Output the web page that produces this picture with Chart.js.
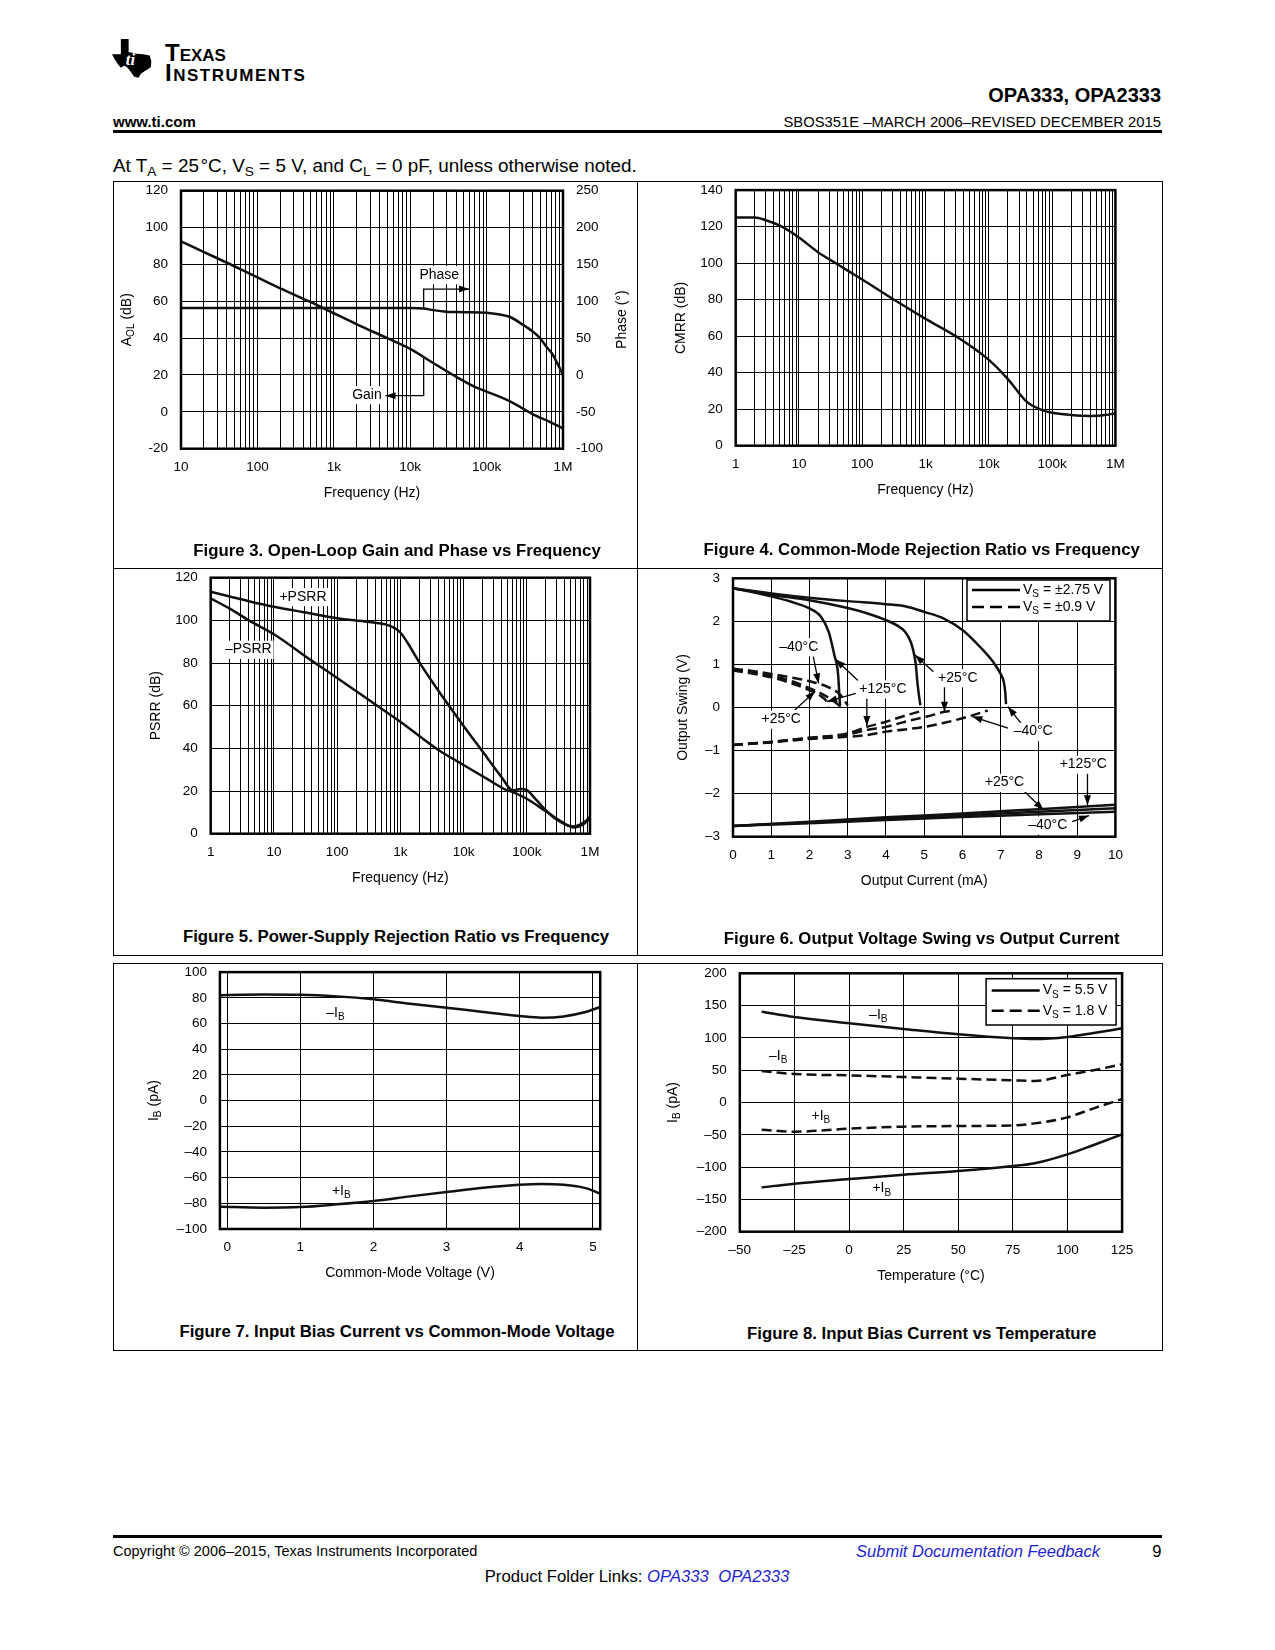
<!DOCTYPE html>
<html>
<head>
<meta charset="utf-8">
<title>OPA333 typical characteristics</title>
<script src="https://cdn.jsdelivr.net/npm/chart.js@4.4.1/dist/chart.umd.min.js"></script>
<style>
  body { margin: 0; background: #fff; font-family: "Liberation Sans", Arial, Helvetica, sans-serif; color: #000; }
  #page { position: relative; width: 1275px; height: 1650px; overflow: hidden; }
  .t { position: absolute; white-space: nowrap; line-height: 1; }
  .rule { position: absolute; background: #000; }
  .cell { position: absolute; border: 1px solid #000; box-sizing: border-box; }
  .cap { position: absolute; white-space: nowrap; line-height: 1; font-weight: bold; font-size: 16.8px; transform: translateX(-50%); }
  canvas { position: absolute; }
  .s { font-size: 0.72em; vertical-align: -0.3em; line-height: 0; }
  .lnk { color: #1f1fd2; font-style: italic; }
</style>
</head>
<body>
<div id="page">
  <!-- header -->
  <svg style="position:absolute;left:112px;top:39px" width="41" height="40" viewBox="0 0 37 34" preserveAspectRatio="none">
    <path d="M8,0 L15,0 L15,11 L22,12.5 L28,13 L34,14 L35.5,19 L35,24 L30,27 L26,29.5 L24,33 L20,32 L17,28 L14,24.5 L11,22.5 L8,24.5 L5,21 L2,16.5 L0,13 L8,13 Z" fill="#000"/>
    <text x="12.5" y="22" font-family="Liberation Serif, serif" font-style="italic" font-weight="bold" font-size="15" fill="#fff">ti</text>
  </svg>
  <div class="t" style="left:165px;top:41.4px;font-size:24px;font-weight:bold;font-variant:small-caps">Texas</div>
  <div class="t" style="left:165px;top:61.4px;font-size:24px;font-weight:bold;font-variant:small-caps;letter-spacing:1.5px">Instruments</div>
  <div class="t" style="right:114px;top:85px;font-size:20px;font-weight:bold">OPA333, OPA2333</div>
  <div class="t" style="left:113px;top:114.3px;font-size:15px;font-weight:bold">www.ti.com</div>
  <div class="t" style="right:114px;top:114.5px;font-size:14.8px">SBOS351E &#8211;MARCH 2006&#8211;REVISED DECEMBER 2015</div>
  <div class="rule" style="left:113px;top:130px;width:1049px;height:3px"></div>
  <div class="t" style="left:113px;top:156.5px;font-size:18.9px">At T<span class="s">A</span> = 25&#8202;°C, V<span class="s">S</span> = 5 V, and C<span class="s">L</span> = 0 pF, unless otherwise noted.</div>

  <!-- figure cells -->
  <div class="cell" style="left:113px;top:181px;width:525px;height:388px"></div>
  <div class="cell" style="left:637px;top:181px;width:526px;height:388px"></div>
  <div class="cell" style="left:113px;top:568px;width:525px;height:388px"></div>
  <div class="cell" style="left:637px;top:568px;width:526px;height:388px"></div>
  <div class="cell" style="left:113px;top:963px;width:525px;height:388px"></div>
  <div class="cell" style="left:637px;top:963px;width:526px;height:388px"></div>

  <canvas id="fig3"></canvas>
  <canvas id="fig4"></canvas>
  <canvas id="fig5"></canvas>
  <canvas id="fig6"></canvas>
  <canvas id="fig7"></canvas>
  <canvas id="fig8"></canvas>

  <div class="cap" style="left:397px;top:543.3px">Figure 3. Open-Loop Gain and Phase vs Frequency</div>
  <div class="cap" style="left:921.7px;top:541.7px">Figure 4. Common-Mode Rejection Ratio vs Frequency</div>
  <div class="cap" style="left:396px;top:928.7px">Figure 5. Power-Supply Rejection Ratio vs Frequency</div>
  <div class="cap" style="left:921.7px;top:931px">Figure 6. Output Voltage Swing vs Output Current</div>
  <div class="cap" style="left:397px;top:1324.3px">Figure 7. Input Bias Current vs Common-Mode Voltage</div>
  <div class="cap" style="left:921.7px;top:1326.3px">Figure 8. Input Bias Current vs Temperature</div>

  <!-- footer -->
  <div class="rule" style="left:113px;top:1535px;width:1049px;height:3px"></div>
  <div class="t" style="left:113px;top:1544.4px;font-size:14.5px">Copyright © 2006&#8211;2015, Texas Instruments Incorporated</div>
  <div class="t lnk" style="right:175px;top:1542.7px;font-size:16.5px">Submit Documentation Feedback</div>
  <div class="t" style="right:113.5px;top:1542.7px;font-size:16.5px">9</div>
  <div class="t" style="left:637px;top:1569.3px;font-size:16.7px;transform:translateX(-50%)">Product Folder Links: <span class="lnk">OPA333</span>&nbsp; <span class="lnk">OPA2333</span></div>
</div>

<script>
const FONT = '"Liberation Sans", Arial, Helvetica, sans-serif';

/* Figure 3: open-loop gain and phase */
const olFreq = [10, 20, 50, 100, 200, 500, 1e3, 2e3, 5e3, 1e4, 2e4, 4e4, 7e4, 1e5, 2e5, 4e5, 7e5, 1e6];
const olGain = [92.5, 86.7, 79, 73, 67, 59.5, 53.5, 47.5, 40, 34.2, 26.5, 19, 13.5, 11, 5.8, -1.2, -5.8, -9];
const phFreq = [10, 100, 1e3, 1e4, 1.5e4, 2e4, 3e4, 5e4, 1e5, 1.5e5, 2e5, 3e5, 4e5, 5e5, 6e5, 7.35e5, 8.5e5, 1e6];
const olPhase = [91, 91, 91, 91, 90.3, 88, 85.8, 85.2, 84.5, 82, 79, 68, 59, 50, 39, 27.5, 15, 0];

/* Figure 4: CMRR */
const cmrrFreq = [1, 2, 3, 5, 10, 20, 40, 100, 300, 1e3, 3e3, 1e4, 2e4, 4e4, 7e4, 1e5, 2e5, 4e5, 7e5, 1e6];
const cmrrDb = [125, 125, 123.5, 120.5, 114, 106, 99.5, 91, 80.5, 69.5, 60, 47, 36.5, 24, 19.5, 18, 16.8, 16.3, 16.8, 17.8];

/* Figure 5: PSRR */
const psrrPlusFreq = [1, 2, 4, 10, 30, 100, 300, 600, 800, 1e3, 1.3e3, 2e3, 4e3, 1e4, 2e4, 4e4, 6e4, 8e4, 1e5, 1.4e5, 2e5, 3e5, 4.5e5, 5.6e5, 7e5, 8.5e5, 1e6];
const psrrPlus = [113.4, 111.2, 109, 106.4, 103.8, 101, 99.3, 98, 96.5, 94.3, 89.5, 80.3, 67, 50.5, 38.5, 26.5, 20.3, 20.9, 20.4, 16, 11, 6.5, 3.8, 3.4, 4.3, 5.8, 8];
const psrrMinusFreq = [1, 2, 4, 10, 40, 100, 430, 1e3, 4e3, 1e4, 2.5e4, 4.5e4, 6e4, 1e5, 2e5, 3.7e5, 5.6e5, 7.7e5, 1e6];
const psrrMinus = [110.3, 105.5, 100, 93.5, 81, 73, 60, 52.5, 39.2, 32.2, 25.2, 20.8, 19.5, 16.4, 10.5, 5.3, 2.9, 4.2, 7.2];

/* Figure 6: output swing, VS = ±2.75 V (solid) */
const hiM40I = [0, 1, 2, 3, 4, 4.5, 5, 5.5, 6, 6.5, 6.8, 7.0, 7.08, 7.12, 7.14];
const hiM40V = [2.77, 2.65, 2.55, 2.47, 2.40, 2.35, 2.22, 2.07, 1.80, 1.37, 1.06, 0.78, 0.6, 0.35, 0.08];
const hi25I = [0, 1, 2, 3, 3.5, 4, 4.3, 4.5, 4.65, 4.72, 4.78, 4.82, 4.86, 4.9];
const hi25V = [2.77, 2.62, 2.49, 2.31, 2.19, 2.03, 1.90, 1.76, 1.52, 1.30, 1.0, 0.6, 0.3, 0.05];
const hi125I = [0, 0.5, 1, 1.5, 2, 2.3, 2.5, 2.65, 2.75, 2.78, 2.8];
const hi125V = [2.77, 2.68, 2.58, 2.46, 2.30, 2.11, 1.76, 1.22, 0.76, 0.3, 0.02];
const loI = [0, 2, 4, 6, 8, 10];
const lo125V = [-2.75, -2.65, -2.55, -2.46, -2.36, -2.26];
const lo25V = [-2.75, -2.67, -2.58, -2.50, -2.42, -2.34];
const loM40V = [-2.75, -2.69, -2.61, -2.54, -2.48, -2.42];
/* VS = ±0.9 V (dashed) */
const dHiM40I = [0, 0.5, 1, 1.5, 2, 2.5, 2.8, 3.0];
const dHiM40V = [0.90, 0.85, 0.78, 0.70, 0.61, 0.47, 0.30, 0.05];
const dHi25I = [0, 0.5, 1, 1.5, 2, 2.3, 2.6, 2.8];
const dHi25V = [0.88, 0.82, 0.74, 0.62, 0.45, 0.33, 0.17, 0.03];
const dHi125I = [0, 0.5, 1, 1.5, 2, 2.3, 2.45, 2.5];
const dHi125V = [0.86, 0.79, 0.70, 0.57, 0.40, 0.26, 0.14, 0.03];
const dLo125I = [0, 1, 2, 3, 3.5, 4, 4.5, 5.02];
const dLo125V = [-0.87, -0.80, -0.70, -0.60, -0.45, -0.33, -0.19, -0.06];
const dLo25I = [0, 1, 2, 3, 3.5, 4, 4.5, 5.07, 5.53, 5.77];
const dLo25V = [-0.87, -0.80, -0.71, -0.63, -0.52, -0.45, -0.33, -0.21, -0.10, -0.07];
const dLoM40I = [0, 1, 2, 3, 3.5, 4, 4.5, 5, 5.5, 6, 6.3, 6.66];
const dLoM40V = [-0.87, -0.81, -0.73, -0.68, -0.64, -0.56, -0.51, -0.45, -0.36, -0.25, -0.17, -0.07];

/* Figure 7: bias current vs common-mode voltage */
const cmVolt = [-0.1, 0, 0.5, 1, 1.5, 2, 2.5, 3, 3.5, 4, 4.3, 4.6, 4.9, 5.1];
const ibMinusCm = [81.9, 82.2, 82.6, 82.4, 81.1, 78.8, 75.4, 72.3, 68.9, 65.8, 64.5, 65.5, 68.9, 72.8];
const ibPlusCm = [-82.6, -82.8, -83.4, -82.9, -80.8, -78.2, -74.6, -71.2, -67.9, -65.5, -64.9, -65.6, -68.2, -72.5];

/* Figure 8: bias current vs temperature */
const tempC = [-40, -25, 0, 25, 50, 75, 85, 100, 112, 125];
const ibMinus55 = [140.6, 132.4, 122.6, 113.8, 105.5, 99.4, 98.3, 101.5, 107.5, 114.8];
const ibPlus55 = [-131.4, -125.7, -118.5, -111.7, -106, -98.3, -94, -80.3, -65.8, -49.3];
const ibMinus18 = [48.8, 44.1, 42, 39.5, 36.9, 34.3, 33.3, 42.6, 50, 59.1];
const ibPlus18 = [-42, -45.2, -40.5, -37.4, -36.4, -35.4, -32.3, -23, -9, 5.4];

/* Tick values and labels */
const freqTicks = [1, 10, 100, 1e3, 1e4, 1e5, 1e6];
const freqLabels = ['1', '10', '100', '1k', '10k', '100k', '1M'];
const gainTicks = [-20, 0, 20, 40, 60, 80, 100, 120];
const gainLabels = ['-20', '0', '20', '40', '60', '80', '100', '120'];
const phaseTicks = [-100, -50, 0, 50, 100, 150, 200, 250];
const phaseLabels = ['-100', '-50', '0', '50', '100', '150', '200', '250'];
const cmrrTicks = [0, 20, 40, 60, 80, 100, 120, 140];
const psrrTicks = [0, 20, 40, 60, 80, 100, 120];
const ioutTicks = [0, 1, 2, 3, 4, 5, 6, 7, 8, 9, 10];
const swingTicks = [-3, -2, -1, 0, 1, 2, 3];
const swingLabels = ['–3', '–2', '–1', '0', '1', '2', '3'];
const cmTicks = [0, 1, 2, 3, 4, 5];
const ib7Ticks = [-100, -80, -60, -40, -20, 0, 20, 40, 60, 80, 100];
const ib7Labels = ['–100', '–80', '–60', '–40', '–20', '0', '20', '40', '60', '80', '100'];
const tempTicks = [-50, -25, 0, 25, 50, 75, 100, 125];
const tempLabels = ['–50', '–25', '0', '25', '50', '75', '100', '125'];
const ib8Ticks = [-200, -150, -100, -50, 0, 50, 100, 150, 200];
const ib8Labels = ['–200', '–150', '–100', '–50', '0', '50', '100', '150', '200'];

/* helpers */
const pts = (xs, ys) => xs.map((x, i) => ({x: x, y: ys[i]}));

function logGrid(lo, hi) {
    const g = [];
    for (let e = Math.round(Math.log10(lo)); Math.pow(10, e) <= hi; e++) {
        for (let k = 1; k < 10; k++) {
            const v = k * Math.pow(10, e);
            if (v >= lo && v <= hi) g.push(v);
        }
    }
    return g;
}

function line(xs, ys, dashed, yAxisID) {
    return {
        data: pts(xs, ys),
        yAxisID: yAxisID || 'y',
        borderColor: '#111',
        borderWidth: 2.5,
        borderDash: dashed ? [10, 5] : [],
        pointRadius: 0,
        fill: false,
        cubicInterpolationMode: 'monotone'
    };
}

function axis(o) {
    const horiz = o.pos === 'bottom';
    const labels = o.labels || o.ticks.map(String);
    return {
        type: o.type || 'linear',
        position: o.pos,
        min: o.min,
        max: o.max,
        afterBuildTicks: s => { s.ticks = (o.grid || o.ticks).map(v => ({value: v})); },
        grid: {display: o.showGrid !== false, color: '#000', lineWidth: 1, drawTicks: false},
        border: {display: false},
        ticks: {
            autoSkip: false, maxRotation: 0, minRotation: 0,
            padding: horiz ? 10.4 : 13,
            color: '#000',
            font: {family: FONT, size: 13.5},
            callback: v => { const i = o.ticks.indexOf(v); return i < 0 ? '' : labels[i]; }
        }
    };
}

/* text with optional subscript parts: [[text], [sub, 1], ...] */
function drawParts(ctx, parts, x, y, size, align, bg) {
    const big = size + 'px ' + FONT, small = (size * 0.72) + 'px ' + FONT;
    let w = 0;
    const ws = parts.map(p => {
        ctx.font = p[1] ? small : big;
        const m = ctx.measureText(p[0]).width;
        w += m;
        return m;
    });
    let sx = align === 'center' ? x - w / 2 : (align === 'right' ? x - w : x);
    if (bg) {
        ctx.fillStyle = '#fff';
        ctx.fillRect(sx - 2, y - size * 0.62, w + 4, size * 1.3);
    }
    ctx.fillStyle = '#000';
    ctx.textBaseline = 'middle';
    ctx.textAlign = 'left';
    parts.forEach((p, i) => {
        ctx.font = p[1] ? small : big;
        ctx.fillText(p[0], sx, p[1] ? y + size * 0.32 : y);
        sx += ws[i];
    });
}

function arrowHead(ctx, a, b) {
    const ang = Math.atan2(b[1] - a[1], b[0] - a[0]);
    const c = Math.cos(ang), s = Math.sin(ang);
    ctx.beginPath();
    ctx.moveTo(b[0], b[1]);
    ctx.lineTo(b[0] - 10 * c + 3.5 * s, b[1] - 10 * s - 3.5 * c);
    ctx.lineTo(b[0] - 10 * c - 3.5 * s, b[1] - 10 * s + 3.5 * c);
    ctx.closePath();
    ctx.fill();
}

/* frame, titles, callouts and legend box */
const deco = {
    id: 'deco',
    beforeDatasetsDraw(chart, args, o) {
        const ctx = chart.ctx;
        ctx.save();
        ctx.strokeStyle = '#000';
        ctx.fillStyle = '#000';
        (o.notes || []).forEach(n => {
            if (!n.arrow) return;
            const xs = chart.scales.x, ys = chart.scales[n.axis || 'y'];
            const p = n.arrow.map(q => [xs.getPixelForValue(q[0]), ys.getPixelForValue(q[1])]);
            ctx.lineWidth = 1.3;
            ctx.beginPath();
            p.forEach((q, i) => i ? ctx.lineTo(q[0], q[1]) : ctx.moveTo(q[0], q[1]));
            ctx.stroke();
            arrowHead(ctx, p[p.length - 2], p[p.length - 1]);
        });
        (o.notes || []).forEach(n => {
            if (!n.text) return;
            const xs = chart.scales.x, ys = chart.scales[n.axis || 'y'];
            drawParts(ctx, n.text, xs.getPixelForValue(n.at[0]), ys.getPixelForValue(n.at[1]), 14, 'center', true);
        });
        ctx.restore();
    },
    afterDraw(chart, args, o) {
        const ctx = chart.ctx, a = chart.chartArea;
        const cy = (a.top + a.bottom) / 2;
        ctx.save();
        ctx.lineWidth = 2.5;
        ctx.strokeStyle = '#000';
        ctx.strokeRect(a.left, a.top, a.right - a.left, a.bottom - a.top);
        drawParts(ctx, o.xTitle, (a.left + a.right) / 2, a.bottom + 44.5, 14, 'center');
        [[o.yTitle, a.left], [o.y2Title, a.right]].forEach(t => {
            if (!t[0]) return;
            ctx.save();
            ctx.translate(t[1] + t[0].dx, cy);
            ctx.rotate(-Math.PI / 2);
            drawParts(ctx, t[0].parts, 0, 0, 14, 'center');
            ctx.restore();
        });
        const L = o.legend;
        if (L) {
            const x0 = a.right - L.dx - L.w, y0 = a.top + L.dy;
            ctx.fillStyle = '#fff';
            ctx.fillRect(x0, y0, L.w, L.h);
            ctx.lineWidth = 1.5;
            ctx.strokeRect(x0, y0, L.w, L.h);
            L.items.forEach((it, i) => {
                const y = y0 + L.row0 + i * L.rowH;
                ctx.setLineDash(it.dash);
                ctx.lineWidth = 2.5;
                ctx.beginPath();
                ctx.moveTo(x0 + L.x0, y);
                ctx.lineTo(x0 + L.x0 + L.sample, y);
                ctx.stroke();
                ctx.setLineDash([]);
                drawParts(ctx, it.parts, x0 + L.x0 + L.sample + 3, y, 14, 'left');
            });
        }
        ctx.restore();
    }
};

/* axis boxes are sized so that the plot area lands on the given page rectangle */
function makeChart(id, cell, plot, datasets, scales, decoOpts) {
    const top = cell[1] - 12;
    const h = Math.round(plot[3] + 62 - top);
    const padLeft = plot[0] - cell[0];
    const padRight = cell[0] + cell[2] - plot[2];
    const padBottom = top + h - plot[3];
    const c = document.getElementById(id);
    c.width = cell[2];
    c.height = h;
    c.style.left = cell[0] + 'px';
    c.style.top = top + 'px';
    c.style.width = cell[2] + 'px';
    c.style.height = h + 'px';
    scales.x.afterFit = s => { s.height = padBottom; };
    scales.y.afterFit = s => { s.width = padLeft; };
    if (scales.y2) scales.y2.afterFit = s => { s.width = padRight; };
    return new Chart(c, {
        type: 'line',
        data: {datasets: datasets},
        options: {
            responsive: false,
            animation: false,
            devicePixelRatio: 1,
            layout: {
                autoPadding: false,
                padding: {left: 0, top: plot[1] - top, right: scales.y2 ? 0 : padRight, bottom: 0}
            },
            plugins: {legend: {display: false}, tooltip: {enabled: false}, deco: decoOpts},
            scales: scales
        },
        plugins: [deco]
    });
}

const vsParts = v => [['V'], ['S', 1], [' = ' + v]];
const ibParts = s => [[s + 'I'], ['B', 1]];

/* Figure 3 */
makeChart('fig3', [113, 181, 525], [181, 190.7, 563, 448.7],
    [line(olFreq, olGain, false, 'y'), line(phFreq, olPhase, false, 'y2')],
    {
        x: axis({type: 'logarithmic', pos: 'bottom', min: 10, max: 1e6, grid: logGrid(10, 1e6), ticks: freqTicks, labels: freqLabels}),
        y: axis({pos: 'left', min: -20, max: 120, ticks: gainTicks, labels: gainLabels}),
        y2: axis({pos: 'right', min: -100, max: 250, ticks: phaseTicks, labels: phaseLabels, showGrid: false})
    },
    {
        xTitle: [['Frequency (Hz)']],
        yTitle: {parts: [['A'], ['OL', 1], [' (dB)']], dx: -54},
        y2Title: {parts: [['Phase (°)']], dx: 59},
        notes: [
            {axis: 'y2', arrow: [[15000, 90.5], [15000, 116.6], [58900, 116.6]]},
            {axis: 'y2', text: [['Phase']], at: [24000, 136]},
            {axis: 'y', arrow: [[15000, 29.2], [15000, 8.75], [4750, 8.75]]},
            {axis: 'y', text: [['Gain']], at: [2716, 9.3]}
        ]
    });

/* Figure 4 */
makeChart('fig4', [637, 181, 526], [735.7, 188.7, 1115.4, 445.7],
    [line(cmrrFreq, cmrrDb)],
    {
        x: axis({type: 'logarithmic', pos: 'bottom', min: 1, max: 1e6, grid: logGrid(1, 1e6), ticks: freqTicks, labels: freqLabels}),
        y: axis({pos: 'left', min: 0, max: 140, ticks: cmrrTicks})
    },
    {xTitle: [['Frequency (Hz)']], yTitle: {parts: [['CMRR (dB)']], dx: -55}});

/* Figure 5 */
makeChart('fig5', [113, 568, 525], [210.7, 577.7, 590, 833.7],
    [line(psrrPlusFreq, psrrPlus), line(psrrMinusFreq, psrrMinus)],
    {
        x: axis({type: 'logarithmic', pos: 'bottom', min: 1, max: 1e6, grid: logGrid(1, 1e6), ticks: freqTicks, labels: freqLabels}),
        y: axis({pos: 'left', min: 0, max: 120, ticks: psrrTicks})
    },
    {
        xTitle: [['Frequency (Hz)']],
        yTitle: {parts: [['PSRR (dB)']], dx: -55},
        notes: [
            {text: [['+PSRR']], at: [28.8, 111.1]},
            {text: [['–PSRR']], at: [3.93, 86.4]}
        ]
    });

/* Figure 6 */
makeChart('fig6', [637, 568, 526], [733, 578.3, 1115.4, 836.7],
    [
        line(hiM40I, hiM40V), line(hi25I, hi25V), line(hi125I, hi125V),
        line(loI, lo125V), line(loI, lo25V), line(loI, loM40V),
        line(dHiM40I, dHiM40V, true), line(dHi25I, dHi25V, true), line(dHi125I, dHi125V, true),
        line(dLo125I, dLo125V, true), line(dLo25I, dLo25V, true), line(dLoM40I, dLoM40V, true)
    ],
    {
        x: axis({pos: 'bottom', min: 0, max: 10, ticks: ioutTicks}),
        y: axis({pos: 'left', min: -3, max: 3, ticks: swingTicks, labels: swingLabels})
    },
    {
        xTitle: [['Output Current (mA)']],
        yTitle: {parts: [['Output Swing (V)']], dx: -50},
        notes: [
            {arrow: [[2.10, 1.18], [2.24, 0.56]]},
            {text: [['–40°C']], at: [1.72, 1.41]},
            {arrow: [[1.62, -0.06], [2.15, 0.38]]},
            {text: [['+25°C']], at: [1.26, -0.27]},
            {arrow: [[3.30, 0.60], [2.68, 1.12]]},
            {arrow: [[3.21, 0.33], [2.46, 0.135]]},
            {arrow: [[3.50, 0.21], [3.50, -0.43]]},
            {text: [['+125°C']], at: [3.92, 0.43]},
            {arrow: [[5.24, 0.83], [4.76, 1.22]]},
            {arrow: [[5.53, 0.48], [5.53, -0.10]]},
            {text: [['+25°C']], at: [5.88, 0.69]},
            {arrow: [[7.63, -0.48], [7.19, 0.02]]},
            {arrow: [[7.19, -0.48], [6.26, -0.21]]},
            {text: [['–40°C']], at: [7.85, -0.56]},
            {arrow: [[9.27, -1.47], [9.27, -2.27]]},
            {text: [['+125°C']], at: [9.16, -1.32]},
            {arrow: [[7.59, -1.92], [8.12, -2.38]]},
            {text: [['+25°C']], at: [7.10, -1.74]},
            {arrow: [[8.87, -2.65], [9.31, -2.51]]},
            {text: [['–40°C']], at: [8.23, -2.73]}
        ],
        legend: {
            w: 143, h: 41, dx: 5.4, dy: 1.7, row0: 10, rowH: 17, x0: 5, sample: 48,
            items: [{dash: [], parts: vsParts('±2.75 V')}, {dash: [12, 6], parts: vsParts('±0.9 V')}]
        }
    });

/* Figure 7 */
makeChart('fig7', [113, 963, 525], [219.9, 971.7, 600.2, 1229],
    [line(cmVolt, ibMinusCm), line(cmVolt, ibPlusCm)],
    {
        x: axis({pos: 'bottom', min: -0.1, max: 5.1, ticks: cmTicks}),
        y: axis({pos: 'left', min: -100, max: 100, ticks: ib7Ticks, labels: ib7Labels})
    },
    {
        xTitle: [['Common-Mode Voltage (V)']],
        yTitle: {parts: [['I'], ['B', 1], [' (pA)']], dx: -66},
        notes: [
            {text: ibParts('–'), at: [1.48, 68.4]},
            {text: ibParts('+'), at: [1.56, -70.5]}
        ]
    });

/* Figure 8 */
makeChart('fig8', [637, 963, 526], [739.8, 973.3, 1122.1, 1231.7],
    [line(tempC, ibMinus55), line(tempC, ibPlus55), line(tempC, ibMinus18, true), line(tempC, ibPlus18, true)],
    {
        x: axis({pos: 'bottom', min: -50, max: 125, ticks: tempTicks, labels: tempLabels}),
        y: axis({pos: 'left', min: -200, max: 200, ticks: ib8Ticks, labels: ib8Labels})
    },
    {
        xTitle: [['Temperature (°C)']],
        yTitle: {parts: [['I'], ['B', 1], [' (pA)']], dx: -67},
        notes: [
            {text: ibParts('–'), at: [13.4, 135.5]},
            {text: ibParts('–'), at: [-32.4, 72.5]},
            {text: ibParts('+'), at: [-12.9, -20.4]},
            {text: ibParts('+'), at: [15, -132.9]}
        ],
        legend: {
            w: 130, h: 46.3, dx: 6, dy: 5.4, row0: 11.8, rowH: 20.3, x0: 5.6, sample: 48,
            items: [{dash: [], parts: vsParts('5.5 V')}, {dash: [12, 6], parts: vsParts('1.8 V')}]
        }
    });
</script>
</body>
</html>
